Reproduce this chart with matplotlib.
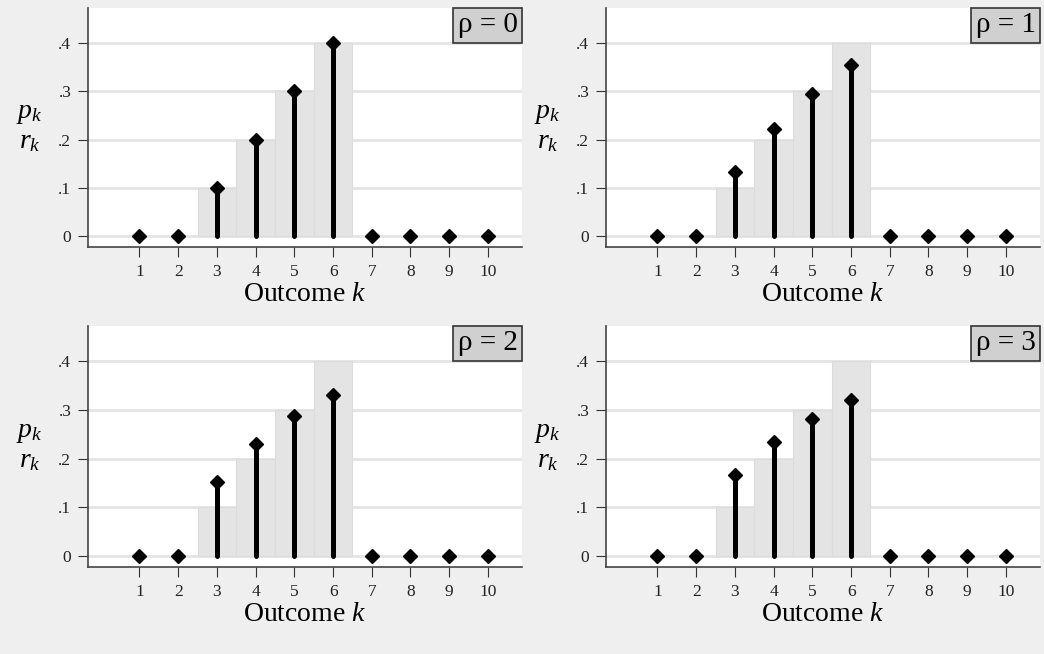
"""Four-panel spike plot: p_k (grey bars) vs r_k (black spikes) for rho = 0..3."""
import matplotlib

matplotlib.use("Agg")
import matplotlib.pyplot as plt

plt.rcParams["font.family"] = ["Liberation Serif", "DejaVu Serif"]
plt.rcParams["mathtext.fontset"] = "custom"
plt.rcParams["mathtext.rm"] = "Liberation Serif"
plt.rcParams["mathtext.it"] = "Liberation Serif:italic"

# data
outcomes = [1, 2, 3, 4, 5, 6, 7, 8, 9, 10]
p_k = [0, 0, 0.1, 0.2, 0.3, 0.4, 0, 0, 0, 0]
r_rho0 = [0, 0, 0.100, 0.200, 0.300, 0.400, 0, 0, 0, 0]
r_rho1 = [0, 0, 0.133, 0.222, 0.294, 0.354, 0, 0, 0, 0]
r_rho2 = [0, 0, 0.151, 0.231, 0.288, 0.332, 0, 0, 0, 0]
r_rho3 = [0, 0, 0.166, 0.234, 0.282, 0.320, 0, 0, 0, 0]
rhos = [0, 1, 2, 3]
y_ticks = [0, 0.1, 0.2, 0.3, 0.4]
y_ticklabels = ["0", ".1", ".2", ".3", ".4"]

BG = "#efefef"
BAR = "#e4e4e4"
GRID = "#e6e6e6"

W, H = 1044, 654
fig = plt.figure(figsize=(W / 100, H / 100), dpi=100, facecolor=BG)

# panel boxes in pixels: left, top, right, bottom
boxes = [
    (88, 8, 522, 247),
    (606, 8, 1040, 247),
    (88, 326, 522, 567),
    (606, 326, 1040, 567),
]

for (l, t, r, b), rho, r_k in zip(boxes, rhos, [r_rho0, r_rho1, r_rho2, r_rho3]):
    ax = fig.add_axes([l / W, 1 - b / H, (r - l) / W, (b - t) / H])
    ax.set_facecolor("white")

    for yv in y_ticks:
        ax.axhline(yv, color=GRID, lw=2.2, zorder=0)

    ks = [k for k, v in zip(outcomes, p_k) if v > 0]
    ps = [v for v in p_k if v > 0]
    ax.bar(ks, ps, width=1, color=BAR, edgecolor="#dcdcdc", linewidth=0.8, zorder=1)

    for k, v in zip(outcomes, r_k):
        if v > 0:
            ax.plot([k, k], [0, v], color="black", lw=3.6,
                    solid_capstyle="round", zorder=2)
    ax.plot(outcomes, r_k, "D", color="black", markersize=7, zorder=3)

    ax.set_xlim(-0.33, 10.88)
    ax.set_ylim(-0.023, 0.473)
    ax.set_xticks(outcomes)
    ax.set_xticklabels([str(k) for k in outcomes], fontsize=12.5, color="#222222")
    ax.set_yticks(y_ticks)
    ax.set_yticklabels(y_ticklabels, fontsize=12.5, color="#222222")
    ax.tick_params(axis="both", direction="out", length=7, width=0.8,
                   color="#333333", pad=5)

    for side in ("top", "right"):
        ax.spines[side].set_visible(False)
    for side in ("left", "bottom"):
        ax.spines[side].set_color("#444444")
        ax.spines[side].set_linewidth(1.2)

    ax.set_xlabel(r"Outcome $k$", fontsize=20, labelpad=2)
    ax.set_ylabel("$p_k$\n$r_k$", fontsize=20, rotation=0,
                  ha="center", va="center", linespacing=1.15)
    ax.yaxis.set_label_coords(-0.135, 0.5)

    # rho label box, flush with the top-right corner of the plot region
    ax.text(0.99, 0.982, f"ρ = {rho}", transform=ax.transAxes,
            ha="right", va="top", fontsize=21,
            bbox=dict(boxstyle="square,pad=0.16", facecolor="#d0d0d0",
                      edgecolor="#333333", linewidth=1.2), zorder=5)

fig.savefig("out.png", dpi=100, facecolor=BG)
